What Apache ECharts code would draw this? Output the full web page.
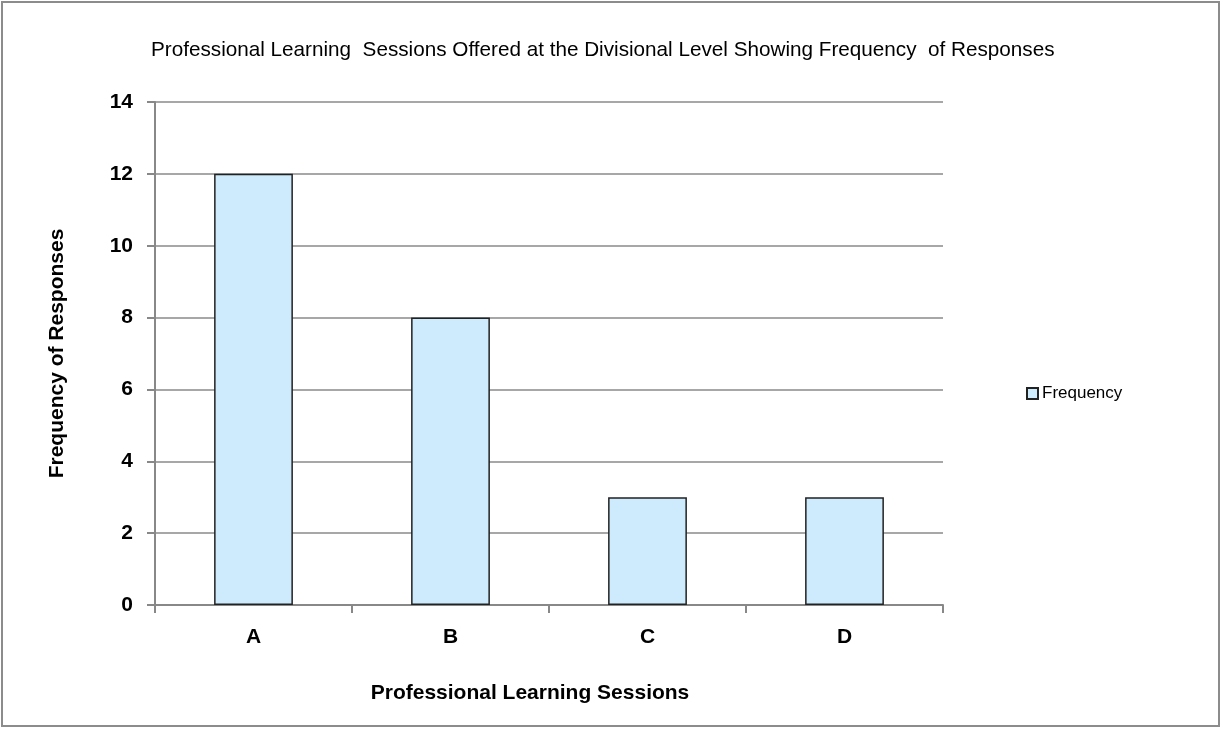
<!DOCTYPE html>
<html>
<head>
<meta charset="utf-8">
<script src="https://cdn.jsdelivr.net/npm/echarts@6/dist/echarts.min.js"></script>
<style>
  html, body { margin: 0; padding: 0; background: #fff; }
  #chart { width: 1222px; height: 729px; }
</style>
</head>
<body>
<div id="chart"></div>
<script>
const categories = ['A', 'B', 'C', 'D']
const frequency = [12, 8, 3, 3]
const seriesName = 'Frequency'

const chart = echarts.init(document.getElementById('chart'))
const font = '"Liberation Sans", Arial, sans-serif'

chart.setOption({
  animation: false,
  textStyle: { fontFamily: font },
  title: {
    text: 'Professional Learning  Sessions Offered at the Divisional Level Showing Frequency  of Responses',
    left: 146,
    top: 35,
    textStyle: { fontFamily: font, fontSize: 20.7, fontWeight: 'normal', color: '#000' }
  },
  graphic: [
    {
      type: 'rect',
      shape: { x: 2, y: 2, width: 1217, height: 724 },
      style: { fill: 'none', stroke: '#8c8c8c', lineWidth: 2 },
      silent: true
    }
  ],
  legend: {
    data: [seriesName],
    left: 1021,
    top: 380,
    orient: 'vertical',
    itemWidth: 11,
    itemHeight: 11,
    icon: 'rect',
    textStyle: { fontFamily: font, fontSize: 17, color: '#000', padding: [0, 0, 0, -1] }
  },
  grid: { left: 155, right: 279, top: 102, bottom: 124 },
  xAxis: {
    type: 'category',
    data: categories,
    name: 'Professional Learning Sessions',
    nameLocation: 'middle',
    nameGap: 78,
    nameTextStyle: { fontFamily: font, fontSize: 21, fontWeight: 'bold', color: '#000', padding: [0, 38, 0, 0] },
    axisLine: { lineStyle: { color: '#888', width: 2 } },
    axisTick: { show: true, alignWithLabel: false, length: 8, lineStyle: { color: '#888', width: 2 } },
    axisLabel: { margin: 22, fontFamily: font, fontSize: 21, fontWeight: 'bold', color: '#000' }
  },
  yAxis: {
    type: 'value',
    min: 0,
    max: 14,
    interval: 2,
    name: 'Frequency of Responses',
    nameLocation: 'middle',
    nameGap: 87,
    nameTextStyle: { fontFamily: font, fontSize: 21, fontWeight: 'bold', color: '#000' },
    axisLine: { show: true, lineStyle: { color: '#888', width: 2 } },
    axisTick: { show: true, length: 8, lineStyle: { color: '#888', width: 2 } },
    axisLabel: { margin: 22, fontFamily: font, fontSize: 21, fontWeight: 'bold', color: '#000' },
    splitLine: { show: true, lineStyle: { color: '#8a8a8a', width: 1.5 } }
  },
  series: [
    {
      name: seriesName,
      type: 'bar',
      data: frequency,
      barWidth: '40%',
      itemStyle: { color: '#cdebfd', borderColor: '#222', borderWidth: 1.5 }
    }
  ]
})
</script>
</body>
</html>
